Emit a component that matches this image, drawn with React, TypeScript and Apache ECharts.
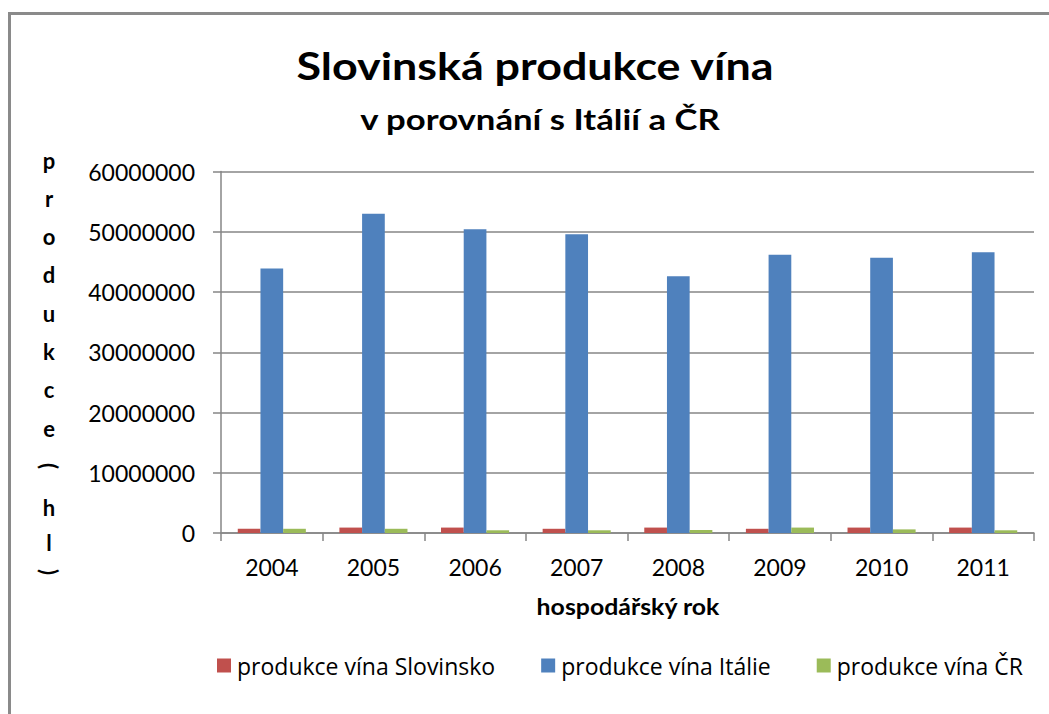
import React, { useEffect, useRef } from "react";
import * as echarts from "echarts";

const years = ["2004", "2005", "2006", "2007", "2008", "2009", "2010", "2011"];
const slovinsko = [700000, 900000, 900000, 700000, 900000, 700000, 900000, 900000];
const italie = [43900000, 53000000, 50400000, 49600000, 42600000, 46200000, 45700000, 46600000];
const cr = [700000, 700000, 450000, 450000, 500000, 900000, 600000, 450000];
const seriesNames = ["produkce vína Slovinsko", "produkce vína Itálie", "produkce vína ČR"];
const colors = ["#C0504D", "#4F81BD", "#9BBB59"];

const FONT = "Lato";

export default function App() {
  const ref = useRef<HTMLDivElement>(null);
  useEffect(() => {
    const chart = echarts.init(ref.current!, null, { renderer: "svg" });
    const lh = 38.3;
    const letters = "produkce".split("");
    const yNameEls: any[] = letters.map((ch, i) => ({
      type: "text",
      style: {
        x: 49, y: 160 + i * lh, text: ch, fill: "#000",
        font: `bold 22px ${FONT}`, align: "center", verticalAlign: "middle",
      },
    }));
    yNameEls.push({
      type: "text", x: 49, y: 466, rotation: -Math.PI / 2,
      style: { x: 0, y: 0, text: "(", fill: "#000", font: `bold 22px ${FONT}`, align: "center", verticalAlign: "middle" },
    });
    yNameEls.push({
      type: "text",
      style: { x: 49, y: 507, text: "h", fill: "#000", font: `bold 22px ${FONT}`, align: "center", verticalAlign: "middle" },
    });
    yNameEls.push({
      type: "text",
      style: { x: 49, y: 542, text: "l", fill: "#000", font: `bold 22px ${FONT}`, align: "center", verticalAlign: "middle" },
    });
    yNameEls.push({
      type: "text", x: 49, y: 572, rotation: -Math.PI / 2,
      style: { x: 0, y: 0, text: ")", fill: "#000", font: `bold 22px ${FONT}`, align: "center", verticalAlign: "middle" },
    });

    chart.setOption({
      animation: false,
      backgroundColor: "#fff",
      textStyle: { fontFamily: FONT },
      graphic: [
        {
          type: "rect", shape: { x: 9.5, y: 13.5, width: 1200, height: 900 },
          style: { fill: "none", stroke: "#8a8a8a", lineWidth: 3 }, silent: true,
        },
        {
          type: "text", x: 535, y: 65, scaleX: 1.18,
          style: { x: 0, y: 0, text: "Slovinská produkce vína", fill: "#000", font: `bold 38px ${FONT}`, align: "center", verticalAlign: "middle" },
        },
        {
          type: "text", x: 540, y: 119, scaleX: 1.24,
          style: { x: 0, y: 0, text: "v porovnání s Itálií a ČR", fill: "#000", font: `bold 28px ${FONT}`, align: "center", verticalAlign: "middle" },
        },
        {
          type: "text", x: 628, y: 607, scaleX: 1.13,
          style: { x: 0, y: 0, text: "hospodářský rok", fill: "#000", font: `bold 22px ${FONT}`, align: "center", verticalAlign: "middle" },
        },
        ...yNameEls,
      ],
      legend: {
        left: 212, top: 649, icon: "rect", itemWidth: 14, itemHeight: 14, itemGap: 46,
        textStyle: { fontSize: 23, fontFamily: "Open Sans", color: "#000", padding: [0, 0, 0, 1] },
        data: seriesNames,
      },
      grid: { left: 221, top: 171.5, right: 15, bottom: 181, containLabel: false },
      xAxis: {
        type: "category", data: years,
        axisLine: { lineStyle: { color: "#868686", width: 1.5 } },
        axisTick: { show: true, length: 8, lineStyle: { color: "#868686", width: 1.5 } },
        axisLabel: { fontSize: 23, color: "#000", margin: 22, fontFamily: FONT },
      },
      yAxis: {
        type: "value", min: 0, max: 60000000, interval: 10000000,
        axisLine: { show: true, lineStyle: { color: "#868686", width: 1.5 } },
        axisTick: { show: true, length: 8, lineStyle: { color: "#868686", width: 1.5 } },
        splitLine: { lineStyle: { color: "#868686", width: 1.5 } },
        axisLabel: { fontSize: 23, color: "#000", margin: 26, fontFamily: FONT, formatter: (v: number) => String(v) },
      },
      series: seriesNames.map((name, i) => ({
        name, type: "bar",
        data: [slovinsko, italie, cr][i],
        itemStyle: { color: colors[i] },
        barGap: "0%", barCategoryGap: "33%",
      })),
    });
    return () => chart.dispose();
  }, []);
  return <div ref={ref} style={{ position: "fixed", left: 0, top: 0, width: 1049, height: 714 }} />;
}
